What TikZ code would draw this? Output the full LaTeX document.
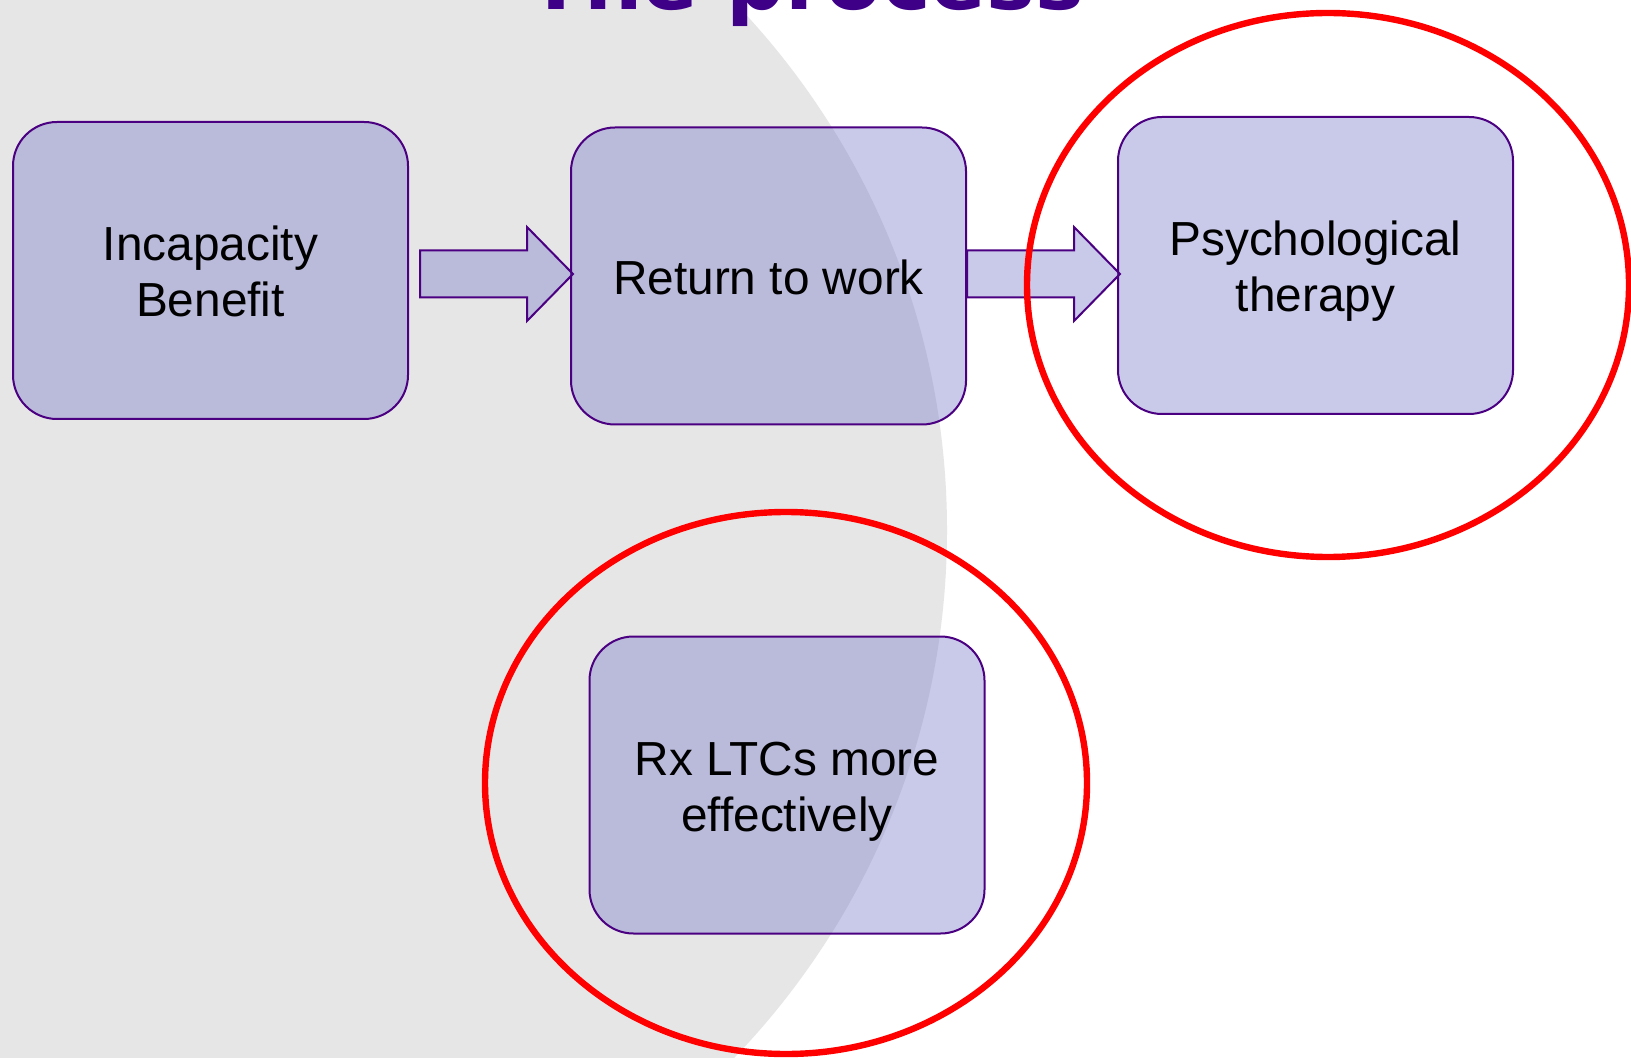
\documentclass[tikz,border=0pt]{standalone}
\usepackage{fontspec}
\setmainfont{Liberation Sans}
\newfontfamily\titlefont{DejaVu Sans}
\usetikzlibrary{calc}
\definecolor{bggrey}{RGB}{230,230,230}
\definecolor{boxfill}{RGB}{120,120,200}
\definecolor{boxline}{RGB}{75,0,130}
\definecolor{titlecol}{RGB}{61,0,135}
\definecolor{ringred}{RGB}{255,0,0}
\newcommand\blockarrow[2]{%
  \draw[blockarr] let \p1=(#1), \p2=(#2) in
    (\x1,\y1+11.75pt) -- (\x2-23pt,\y1+11.75pt) -- (\x2-23pt,\y1+23.5pt) --
    (\x2,\y1) -- (\x2-23pt,\y1-23.5pt) -- (\x2-23pt,\y1-11.75pt) --
    (\x1,\y1-11.75pt) -- cycle;}
\newcommand\boxtext[2]{\raisebox{#1}[\height][\depth]{\begin{tabular}{@{}c@{}}#2\end{tabular}}}
\begin{document}
\begin{tikzpicture}[x=0.5pt,y=-0.5pt,
  box/.style={draw=boxline, line width=1pt, fill=boxfill, fill opacity=0.4,
    text opacity=1, rounded corners=22pt, minimum width=197.5pt,
    minimum height=148.5pt, align=center, inner sep=0pt,
    font=\fontsize{23.9}{28}\selectfont},
  ring/.style={draw=ringred, line width=3.2pt},
  blockarr/.style={draw=boxline, line width=1pt, fill=boxfill, fill opacity=0.4}]
\useasboundingbox (0,0) rectangle (1631,1058);
\clip (0,0) rectangle (1631,1058);
\fill[white] (0,0) rectangle (1631,1058);
\fill[bggrey] (186,530) circle [radius=380.5pt];

\node[anchor=base west, inner sep=0pt, text=titlecol,
  font=\titlefont\bfseries\fontsize{41}{41}\selectfont] (title) at (528,10) {The process};

\node[box] (b1) at (210.5,270.5) {\boxtext{-3.6pt}{Incapacity\\Benefit}};
\node[box] (b2) at (768.5,276) {\boxtext{-3.6pt}{Return to work}};
\node[box] (b3) at (1315.5,265.5) {\boxtext{-3.6pt}{Psychological\\therapy}};
\node[box] (b4) at (787,785) {\boxtext{-3.6pt}{Rx LTCs more\\effectively}};

\coordinate (a1s) at ($(b1.east)+(11,3.5)$);
\coordinate (a1e) at ($(b2.west)+(3,-2)$);
\coordinate (a2s) at ($(b2.east)+(0,-2)$);
\coordinate (a2e) at ($(b3.west)+(3,8.5)$);
\blockarrow{a1s}{a1e}
\blockarrow{a2s}{a2e}

\draw[ring] (1328,285) ellipse [x radius=150.5pt, y radius=136pt];
\draw[ring] (786,783) ellipse [x radius=150.5pt, y radius=135.5pt];
\end{tikzpicture}
\end{document}
